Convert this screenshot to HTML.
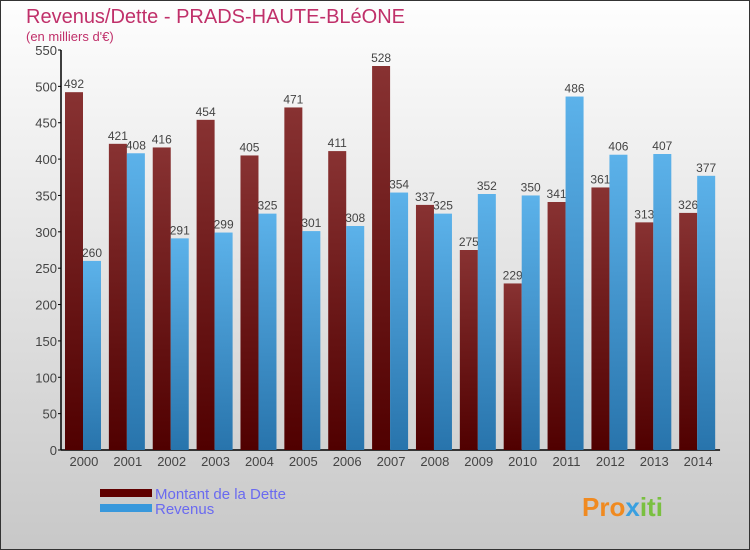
<!DOCTYPE html>
<html><head><meta charset="utf-8"><style>
body{margin:0;width:750px;height:550px;overflow:hidden;font-family:"Liberation Sans",sans-serif}
#wrap{position:absolute;left:0;top:0;width:748px;height:548px;border:1px solid #333;background:linear-gradient(#fefefe,#c8c8c8)}
</style></head><body>
<div id="wrap">
<svg id="chart" width="750" height="550" style="position:absolute;left:-1px;top:-1px">
<defs>
<linearGradient id="gd" x1="0" y1="0" x2="0" y2="1"><stop offset="0" stop-color="#883232"/><stop offset="1" stop-color="#500000"/></linearGradient>
<linearGradient id="gr" x1="0" y1="0" x2="0" y2="1"><stop offset="0" stop-color="#5cb2ea"/><stop offset="1" stop-color="#2874ac"/></linearGradient>
</defs>
<text x="26" y="23" font-size="20" fill="#c0306a">Revenus/Dette - PRADS-HAUTE-BLéONE</text>
<text x="26" y="41" font-size="13" fill="#c0306a">(en milliers d'€)</text>
<g id="axes"></g><g id="bars"></g>
<rect x="100" y="489" width="52" height="8" fill="#600000"/>
<text x="155" y="499" font-size="15" fill="#6a6af0">Montant de la Dette</text>
<rect x="100" y="504" width="52" height="8" fill="#3898dc"/>
<text x="155" y="514" font-size="15" fill="#6a6af0">Revenus</text>
<text x="582" y="516" font-size="26" font-weight="bold" fill="#f08a20">Pro<tspan fill="#3aa0e0">x</tspan><tspan fill="#7ac040">iti</tspan></text>
</svg></div>
<script>
const years=["2000","2001","2002","2003","2004","2005","2006","2007","2008","2009","2010","2011","2012","2013","2014"];
const dette=[492,421,416,454,405,471,411,528,337,275,229,341,361,313,326];
const revenus=[260,408,291,299,325,301,308,354,325,352,350,486,406,407,377];
const yTicks=[0,50,100,150,200,250,300,350,400,450,500,550];
const NS="http://www.w3.org/2000/svg";
const x0=62,gw=43.87,y0=450,yMax=550,ph=400;
const yS=v=>y0-v/yMax*ph;
function mk(t,a,p){const e=document.createElementNS(NS,t);for(const k in a)e.setAttribute(k,a[k]);p.appendChild(e);return e;}
const ax=document.getElementById('axes'),bg=document.getElementById('bars');
let l=mk('line',{x1:x0-1,y1:yS(550),x2:x0-1,y2:y0,stroke:'#000','stroke-width':1.5},ax);


l=mk('line',{x1:x0-1,y1:y0,x2:x0+gw*years.length,y2:y0,stroke:'#000','stroke-width':1.5},ax);


yTicks.forEach(v=>{
 mk('line',{x1:x0-4,x2:x0-1,y1:yS(v),y2:yS(v),stroke:'#000'},ax);
 const t=mk('text',{x:x0-5,y:yS(v)+5,'font-size':13,'text-anchor':'end',fill:'#444'},ax);t.textContent=v;
 
 
});
years.forEach((y,i)=>{
 const gx=x0+i*gw;
 const t=mk('text',{x:gx+gw/2,y:y0+16,'font-size':13,'text-anchor':'middle',fill:'#444'},ax);t.textContent=y;
 
 
 [[dette[i],'url(#gd)',gx+3,'bar-dette'],[revenus[i],'url(#gr)',gx+21,'bar-revenus']].forEach(([v,f,bx,n])=>{
  const r=mk('rect',{x:bx,y:yS(v),width:18,height:y0-yS(v),fill:f},bg);
  
  
  const lb=mk('text',{x:bx+9,y:yS(v)-4,'font-size':12,'text-anchor':'middle',fill:'#444'},bg);lb.textContent=v;
  
  
 });
});
</script>
</body></html>
